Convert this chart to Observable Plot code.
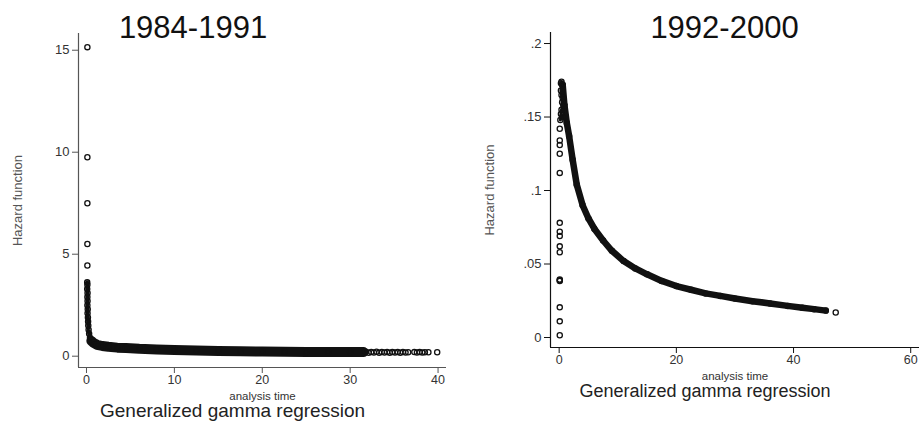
<!DOCTYPE html>
<html>
<head>
<meta charset="utf-8">
<script src="https://cdn.jsdelivr.net/npm/d3@7"></script>
<script src="https://cdn.jsdelivr.net/npm/@observablehq/plot@0.6"></script>
<style>
  body { margin: 0; background: #fff; }
  #fig { display: flex; width: 921px; height: 427px; background: #fff; }
</style>
</head>
<body>
<div id="fig"></div>
<script>
// ---------- Panel 1: 1984-1991 ----------
const leftTitle = "1984-1991";
const leftXTicks = [0, 10, 20, 30, 40];
const leftYTicks = [0, 5, 10, 15];
// isolated early estimates near t = 0
const leftOutT = [0.1, 0.1, 0.1, 0.1, 0.1];
const leftOutH = [15.15, 9.75, 7.5, 5.5, 4.45];
// dense spike near t = 0
const leftSpikeT = [0.08, 0.1, 0.08, 0.12, 0.1, 0.12, 0.1, 0.14, 0.12, 0.16, 0.18, 0.2, 0.24, 0.3, 0.4, 0.55];
const leftSpikeH = [3.62, 3.5, 3.3, 3.1, 2.9, 2.7, 2.5, 2.3, 2.1, 1.9, 1.7, 1.5, 1.3, 1.1, 0.9, 0.75];
// dense tail band
const leftTailT = [0.55, 0.8, 1.2, 1.8, 2.5, 3.5, 4.5, 6, 8, 10, 12.5, 15, 17.5, 20, 22.5, 25, 27.5, 30, 31.5];
const leftTailH = [0.75, 0.65, 0.56, 0.5, 0.46, 0.42, 0.4, 0.36, 0.33, 0.3, 0.28, 0.26, 0.24, 0.23, 0.22, 0.21, 0.2, 0.2, 0.2];
// sparser end of tail
const leftEndT = [31.8, 32.1, 32.4, 32.7, 33, 33.3, 33.6, 33.9, 34.2, 34.5, 34.8, 35.1, 35.4, 35.7, 36, 36.3, 36.6, 37.3, 37.6, 37.9, 38.2, 38.5, 38.9, 39.9];
const leftEndH = [0.22, 0.17, 0.21, 0.18, 0.22, 0.17, 0.21, 0.18, 0.21, 0.17, 0.2, 0.18, 0.21, 0.17, 0.2, 0.18, 0.19, 0.2, 0.18, 0.2, 0.18, 0.19, 0.19, 0.19];

// ---------- Panel 2: 1992-2000 ----------
const rightTitle = "1992-2000";
const rightXTicks = [0, 20, 40, 60];
const rightYTicks = [0, 0.05, 0.1, 0.15, 0.2];
const rightOutT = [0.1, 0.1, 0.1, 0.1, 0.1, 0.1, 0.1, 0.1, 0.1, 0.1, 0.1, 0.1, 0.1, 0.1, 0.1, 0.1];
const rightOutH = [0.142, 0.134, 0.131, 0.125, 0.112, 0.078, 0.072, 0.069, 0.062, 0.058, 0.0395, 0.039, 0.0385, 0.0205, 0.011, 0.0015];
const rightSpikeT = [0.3, 0.4, 0.5, 0.3, 0.4, 0.6, 0.5, 0.7, 0.4, 0.3, 0.5, 0.2];
const rightSpikeH = [0.173, 0.174, 0.172, 0.168, 0.165, 0.163, 0.16, 0.158, 0.155, 0.152, 0.15, 0.148];
const rightCurveT = [0.6, 0.9, 1.3, 1.7, 2.3, 3, 4, 5, 6, 7.5, 9, 11, 13, 15, 17.5, 20, 22.5, 25, 27.5, 30, 33, 36, 39, 41.5, 43.5, 45.5];
const rightCurveH = [0.172, 0.158, 0.146, 0.137, 0.121, 0.104, 0.09, 0.081, 0.074, 0.066, 0.059, 0.052, 0.047, 0.043, 0.0385, 0.035, 0.0325, 0.030, 0.0283, 0.0265, 0.0247, 0.0232, 0.0215, 0.0203, 0.0193, 0.0183];
const rightEndT = [47.2];
const rightEndH = [0.017];

// shared texts
const yLabel = "Hazard function";
const xLabel = "analysis time";
const caption = "Generalized gamma regression";

const zip = (t, h) => t.map((v, i) => ({t: v, h: h[i]}));
const FONT = "'Liberation Sans', Arial, Helvetica, sans-serif";

function panel(o) {
  const dotStyle = {x: "t", y: "h", r: 2.6, stroke: "#111", strokeWidth: 1.3, fill: "none"};
  return Plot.plot({
    width: o.width, height: 427,
    marginLeft: o.ml, marginRight: o.mr, marginTop: o.mt, marginBottom: o.mb,
    style: {fontFamily: FONT, color: "#222", background: "#fff", overflow: "visible"},
    x: {domain: o.xDomain},
    y: {domain: o.yDomain},
    marks: [
      Plot.ruleX([o.xDomain[0]], {stroke: o.axisColor, strokeWidth: 1.2}),
      Plot.ruleY([o.yDomain[0]], {stroke: o.axisColor, strokeWidth: 1.2}),
      Plot.axisX({ticks: o.xTicks, tickSize: 6, tickPadding: 2, fontSize: 12.5, label: null, stroke: o.axisColor, fill: "#333"}),
      Plot.axisY({ticks: o.yTicks, tickSize: 6, tickPadding: 3, fontSize: 13, label: null, stroke: o.axisColor, fill: "#333", tickFormat: o.yFormat}),
      ...o.lines.map(L => Plot.line(L.data, {x: "t", y: "h", stroke: "#111", strokeWidth: L.width, strokeLinecap: "round", strokeLinejoin: "round"})),
      ...o.dots.map(D => Plot.dot(D, dotStyle)),
      Plot.text([o.title], {frameAnchor: "top", text: d => d, dx: o.titleDx, dy: o.titleDy, textAnchor: "middle", lineAnchor: "bottom", fontSize: 31, fill: "#111"}),
      Plot.text([xLabel], {frameAnchor: "bottom", text: d => d, dy: o.xlDy, textAnchor: "middle", lineAnchor: "bottom", fontSize: 11.5, fill: "#333"}),
      Plot.text([caption], {frameAnchor: "bottom", text: d => d, dx: o.capDx, dy: o.capDy, textAnchor: "middle", lineAnchor: "bottom", fontSize: o.capSize, fill: "#222"}),
      Plot.text([yLabel], {frameAnchor: "left", text: d => d, dx: -57, rotate: -90, textAnchor: "middle", lineAnchor: "bottom", fontSize: 13, fill: "#555"})
    ]
  });
}

const left = panel({
  width: 460, ml: 78, mr: 14, mt: 33, mb: 60,
  xDomain: [-0.91, 40.96], yDomain: [-0.554, 15.82],
  xTicks: leftXTicks, yTicks: leftYTicks, yFormat: d => String(d),
  axisColor: "#555",
  lines: [
    {data: zip(leftSpikeT, leftSpikeH), width: 4},
    {data: zip(leftTailT, leftTailH), width: 10}
  ],
  dots: [zip(leftOutT, leftOutH), zip(leftSpikeT, leftSpikeH), zip(leftTailT, leftTailH), zip(leftEndT, leftEndH)],
  title: leftTitle, titleDx: -69.5, titleDy: 4,
  xlDy: 32, capDx: -30, capDy: 49.5, capSize: 19
});

const right = panel({
  width: 461, ml: 90, mr: 2, mt: 32, mb: 80,
  xDomain: [-1.48, 61.5], yDomain: [-0.0068, 0.2075],
  xTicks: rightXTicks, yTicks: rightYTicks,
  yFormat: d => d === 0 ? "0" : d3.format(".2~f")(d).replace(/^0/, ""),
  axisColor: "#111",
  lines: [
    {data: zip(rightSpikeT, rightSpikeH), width: 3},
    {data: zip(rightCurveT, rightCurveH), width: 6.5}
  ],
  dots: [zip(rightOutT, rightOutH), zip(rightSpikeT, rightSpikeH), zip(rightCurveT, rightCurveH), zip(rightEndT, rightEndH)],
  title: rightTitle, titleDx: -10.5, titleDy: 5,
  xlDy: 32, capDx: -30, capDy: 49.5, capSize: 18
});

const fig = document.getElementById("fig");
fig.appendChild(left);
fig.appendChild(right);
</script>
</body>
</html>
